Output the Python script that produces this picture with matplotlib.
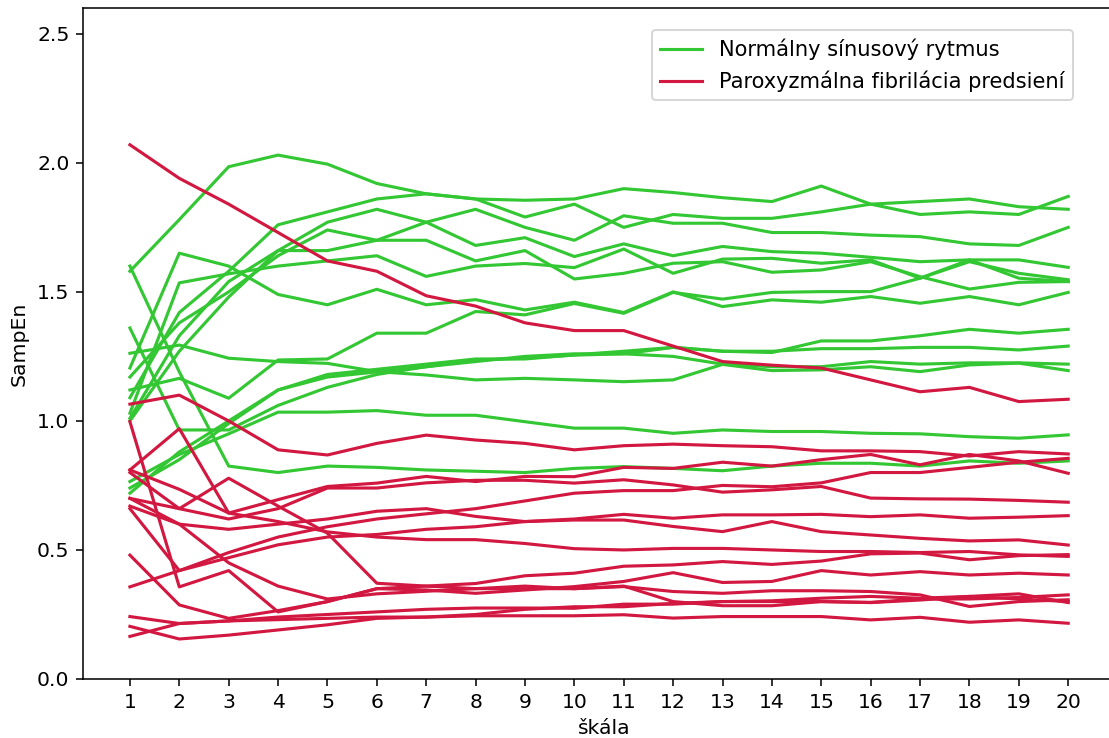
import matplotlib
matplotlib.use("Agg")
import matplotlib.pyplot as plt
import numpy as np

# Scale factors 1..20
scales = list(range(1, 21))

# SampEn per record - normal sinus rhythm
nsr_1 = [1.58, 1.78, 1.985, 2.03, 1.995, 1.92, 1.88, 1.86, 1.855, 1.86, 1.90, 1.885, 1.865, 1.85, 1.91, 1.84, 1.80, 1.81, 1.80, 1.87]
nsr_2 = [1.09, 1.42, 1.58, 1.76, 1.81, 1.86, 1.88, 1.86, 1.79, 1.84, 1.75, 1.80, 1.785, 1.785, 1.81, 1.84, 1.85, 1.86, 1.83, 1.82]
nsr_3 = [1.01, 1.33, 1.54, 1.66, 1.77, 1.82, 1.77, 1.82, 1.75, 1.70, 1.795, 1.766, 1.766, 1.73, 1.73, 1.72, 1.714, 1.686, 1.68, 1.75]
nsr_4 = [1.17, 1.38, 1.50, 1.64, 1.74, 1.70, 1.77, 1.68, 1.71, 1.637, 1.686, 1.64, 1.676, 1.656, 1.65, 1.634, 1.617, 1.624, 1.624, 1.595]
nsr_5 = [1.205, 1.65, 1.60, 1.49, 1.45, 1.51, 1.45, 1.47, 1.43, 1.46, 1.42, 1.50, 1.443, 1.469, 1.46, 1.482, 1.456, 1.482, 1.45, 1.498]
nsr_6 = [1.12, 1.165, 1.088, 1.236, 1.24, 1.34, 1.34, 1.424, 1.411, 1.455, 1.417, 1.498, 1.472, 1.498, 1.501, 1.501, 1.553, 1.624, 1.553, 1.54]
nsr_7 = [1.262, 1.294, 1.243, 1.23, 1.223, 1.191, 1.178, 1.159, 1.165, 1.159, 1.152, 1.159, 1.219, 1.195, 1.198, 1.21, 1.191, 1.217, 1.224, 1.195]
nsr_8 = [1.36, 0.965, 0.965, 1.06, 1.13, 1.18, 1.21, 1.23, 1.25, 1.26, 1.26, 1.285, 1.27, 1.265, 1.31, 1.31, 1.33, 1.355, 1.34, 1.355]
nsr_9 = [0.72, 0.88, 1.00, 1.12, 1.18, 1.20, 1.22, 1.24, 1.24, 1.256, 1.27, 1.285, 1.27, 1.27, 1.28, 1.28, 1.285, 1.285, 1.275, 1.29]
nsr_10 = [0.74, 0.85, 0.99, 1.12, 1.17, 1.19, 1.21, 1.236, 1.243, 1.255, 1.26, 1.25, 1.22, 1.21, 1.21, 1.23, 1.22, 1.225, 1.225, 1.22]
nsr_11 = [0.765, 0.87, 0.95, 1.034, 1.034, 1.04, 1.022, 1.022, 0.997, 0.972, 0.972, 0.952, 0.965, 0.959, 0.959, 0.952, 0.95, 0.939, 0.933, 0.946]
nsr_12 = [1.60, 1.19, 0.825, 0.80, 0.825, 0.82, 0.81, 0.805, 0.80, 0.816, 0.823, 0.816, 0.807, 0.825, 0.836, 0.836, 0.825, 0.845, 0.836, 0.845]
nsr_13 = [1.03, 1.535, 1.57, 1.60, 1.62, 1.64, 1.56, 1.60, 1.61, 1.594, 1.666, 1.572, 1.627, 1.63, 1.611, 1.624, 1.553, 1.617, 1.572, 1.547]
nsr_14 = [1.00, 1.27, 1.48, 1.66, 1.66, 1.70, 1.70, 1.62, 1.66, 1.55, 1.572, 1.611, 1.617, 1.576, 1.585, 1.617, 1.559, 1.511, 1.537, 1.54]

# SampEn per record - paroxysmal atrial fibrillation
paf_1 = [2.07, 1.94, 1.84, 1.73, 1.62, 1.58, 1.485, 1.445, 1.38, 1.35, 1.35, 1.29, 1.23, 1.216, 1.205, 1.159, 1.113, 1.13, 1.075, 1.084]
paf_2 = [1.065, 1.10, 1.0, 0.888, 0.868, 0.913, 0.945, 0.926, 0.913, 0.888, 0.904, 0.91, 0.904, 0.90, 0.884, 0.884, 0.881, 0.864, 0.881, 0.872]
paf_3 = [0.997, 0.357, 0.42, 0.26, 0.30, 0.35, 0.345, 0.332, 0.345, 0.358, 0.378, 0.412, 0.374, 0.378, 0.42, 0.403, 0.416, 0.403, 0.41, 0.403]
paf_4 = [0.81, 0.97, 0.643, 0.695, 0.746, 0.759, 0.785, 0.765, 0.785, 0.784, 0.82, 0.816, 0.84, 0.825, 0.85, 0.87, 0.83, 0.87, 0.845, 0.797]
paf_5 = [0.357, 0.42, 0.49, 0.55, 0.59, 0.62, 0.64, 0.66, 0.69, 0.72, 0.73, 0.73, 0.75, 0.745, 0.76, 0.80, 0.80, 0.82, 0.84, 0.855]
paf_6 = [0.80, 0.66, 0.62, 0.66, 0.74, 0.74, 0.76, 0.77, 0.77, 0.759, 0.772, 0.752, 0.724, 0.733, 0.746, 0.701, 0.698, 0.697, 0.692, 0.685]
paf_7 = [0.70, 0.60, 0.58, 0.60, 0.62, 0.65, 0.66, 0.63, 0.61, 0.62, 0.638, 0.623, 0.636, 0.636, 0.638, 0.629, 0.636, 0.623, 0.627, 0.633]
paf_8 = [0.66, 0.42, 0.47, 0.52, 0.55, 0.56, 0.58, 0.59, 0.61, 0.616, 0.616, 0.591, 0.571, 0.61, 0.571, 0.558, 0.545, 0.535, 0.539, 0.519]
paf_9 = [0.81, 0.735, 0.643, 0.61, 0.57, 0.55, 0.54, 0.54, 0.525, 0.505, 0.50, 0.506, 0.506, 0.50, 0.494, 0.494, 0.49, 0.494, 0.481, 0.475]
paf_10 = [0.48, 0.287, 0.235, 0.265, 0.30, 0.35, 0.36, 0.37, 0.40, 0.41, 0.437, 0.442, 0.455, 0.444, 0.457, 0.485, 0.488, 0.462, 0.478, 0.482]
paf_11 = [0.70, 0.66, 0.778, 0.67, 0.565, 0.371, 0.36, 0.35, 0.35, 0.35, 0.36, 0.30, 0.284, 0.284, 0.30, 0.297, 0.31, 0.31, 0.316, 0.326]
paf_12 = [0.67, 0.60, 0.45, 0.36, 0.31, 0.33, 0.34, 0.35, 0.36, 0.35, 0.358, 0.339, 0.332, 0.342, 0.342, 0.339, 0.326, 0.281, 0.30, 0.307]
paf_13 = [0.165, 0.215, 0.225, 0.24, 0.25, 0.26, 0.27, 0.275, 0.275, 0.274, 0.29, 0.29, 0.30, 0.303, 0.313, 0.32, 0.313, 0.32, 0.33, 0.296]
paf_14 = [0.204, 0.155, 0.17, 0.19, 0.21, 0.235, 0.24, 0.25, 0.27, 0.28, 0.28, 0.293, 0.30, 0.30, 0.30, 0.296, 0.306, 0.32, 0.31, 0.30]
paf_15 = [0.242, 0.215, 0.225, 0.23, 0.235, 0.24, 0.24, 0.245, 0.245, 0.245, 0.249, 0.236, 0.242, 0.242, 0.242, 0.229, 0.239, 0.22, 0.229, 0.216]

nsr_series = [nsr_1, nsr_2, nsr_3, nsr_4, nsr_5, nsr_6, nsr_7, nsr_8, nsr_9, nsr_10,
              nsr_11, nsr_12, nsr_13, nsr_14]
paf_series = [paf_1, paf_2, paf_3, paf_4, paf_5, paf_6, paf_7, paf_8, paf_9, paf_10,
              paf_11, paf_12, paf_13, paf_14, paf_15]

label_nsr = "Normálny sínusový rytmus"
label_paf = "Paroxyzmálna fibrilácia predsiení"

GREEN = "#33c733"
RED = "#d21740"

DPI = 140
W, H = 1109, 738
fig = plt.figure(figsize=(W / DPI, H / DPI), dpi=DPI)
ax = fig.add_axes([83 / W, (H - 679) / H, (1125 - 83) / W, (679 - 8) / H])
ax.spines["right"].set_visible(False)

for i, s in enumerate(nsr_series):
    ax.plot(scales, s, color=GREEN, lw=1.6, label=label_nsr if i == 0 else None)
for i, s in enumerate(paf_series):
    ax.plot(scales, s, color=RED, lw=1.6, label=label_paf if i == 0 else None)

ax.set_xlim(0.05, 21.15)
ax.set_ylim(0, 2.6)
ax.set_xticks(scales)
ax.set_yticks([0.0, 0.5, 1.0, 1.5, 2.0, 2.5])
ax.tick_params(labelsize=10.5)
ax.set_xlabel("škála", fontsize=10.5)
ax.set_ylabel("SampEn", fontsize=10.5)

fig.legend(loc="upper right", bbox_to_anchor=(1073 / W, 1 - 30 / H),
           bbox_transform=fig.transFigure, borderaxespad=0, fontsize=10.8)

fig.savefig("out.png", dpi=DPI)
